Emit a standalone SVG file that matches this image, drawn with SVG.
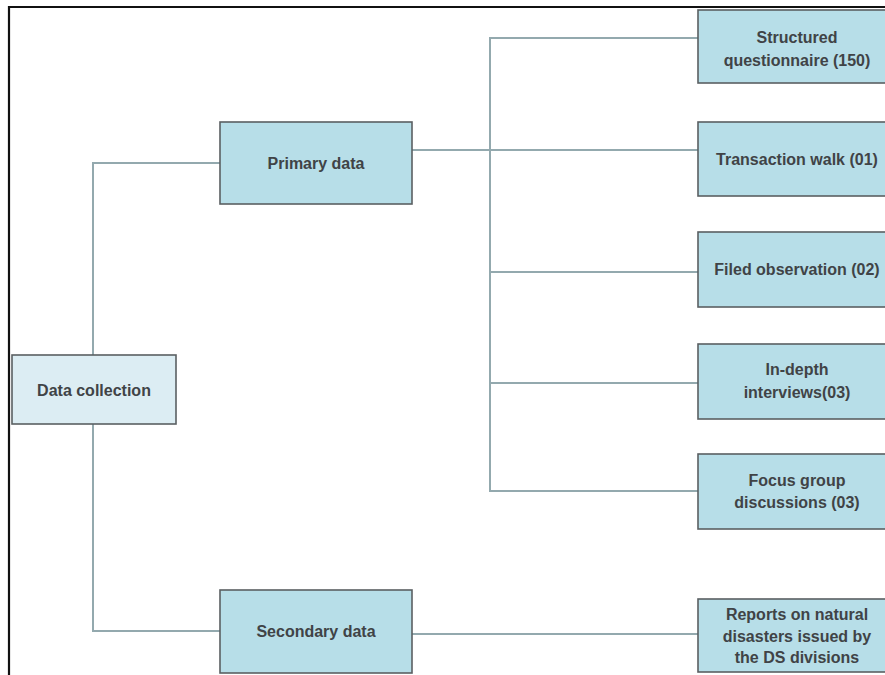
<svg xmlns="http://www.w3.org/2000/svg" width="885" height="675" viewBox="0 0 885 675">
<style>
.box{fill:#b7dee8;stroke:#5a5f62;stroke-width:1.6}
.root{fill:#dcedf3;stroke:#5a5f62;stroke-width:1.6}
.t{font-family:"Liberation Sans",Arial,sans-serif;font-size:16px;font-weight:bold;fill:#404346;text-anchor:middle}
.c{fill:none;stroke:#93a9ae;stroke-width:2}
</style>
<rect x="0" y="0" width="885" height="675" fill="#ffffff"/>
<path d="M9,675 V7 H885" fill="none" stroke="#111" stroke-width="2.2"/>
<g id="connectors">
<path class="c" d="M93,355 V163 H220"/>
<path class="c" d="M93,424 V631 H220"/>
<path class="c" d="M412,150 H698"/>
<path class="c" d="M698,38 H490 V491 H698"/>
<path class="c" d="M490,272 H698"/>
<path class="c" d="M490,383 H698"/>
<path class="c" d="M412,634 H698"/>
</g>
<g id="data-collection">
<rect class="root" x="12" y="355" width="164" height="69"/>
<text class="t" x="94" y="396">Data collection</text>
</g>
<g id="primary-data">
<rect class="box" x="220" y="122" width="192" height="82"/>
<text class="t" x="316" y="169">Primary data</text>
</g>
<g id="secondary-data">
<rect class="box" x="220" y="590" width="192" height="83"/>
<text class="t" x="316" y="637">Secondary data</text>
</g>
<g id="structured-questionnaire">
<rect class="box" x="698" y="10" width="200" height="73"/>
<text class="t" x="797" y="43">Structured</text>
<text class="t" x="797" y="66">questionnaire (150)</text>
</g>
<g id="transaction-walk">
<rect class="box" x="698" y="122" width="200" height="74"/>
<text class="t" x="797" y="165">Transaction walk (01)</text>
</g>
<g id="filed-observation">
<rect class="box" x="698" y="232" width="200" height="75"/>
<text class="t" x="797" y="275">Filed observation (02)</text>
</g>
<g id="in-depth-interviews">
<rect class="box" x="698" y="344" width="200" height="75"/>
<text class="t" x="797" y="375">In-depth</text>
<text class="t" x="797" y="398">interviews(03)</text>
</g>
<g id="focus-group">
<rect class="box" x="698" y="454" width="200" height="75"/>
<text class="t" x="797" y="486">Focus group</text>
<text class="t" x="797" y="508">discussions (03)</text>
</g>
<g id="reports">
<rect class="box" x="698" y="599" width="200" height="73"/>
<text class="t" x="797" y="620">Reports on natural</text>
<text class="t" x="797" y="642">disasters issued by</text>
<text class="t" x="797" y="663">the DS divisions</text>
</g>
</svg>
